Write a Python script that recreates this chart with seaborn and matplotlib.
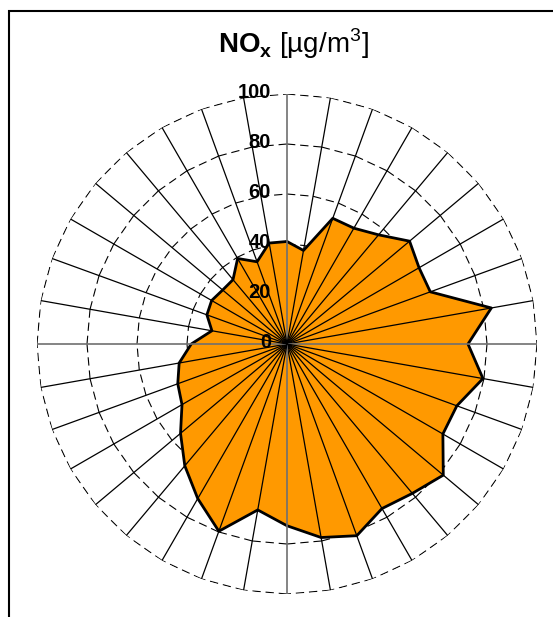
import numpy as np
import matplotlib
matplotlib.use('Agg')
import matplotlib.pyplot as plt
import matplotlib.transforms as mtransforms
from matplotlib.patches import Rectangle
import seaborn as sns

# wind direction sectors (deg from north, clockwise) and NOx concentration
directions = np.arange(0, 360, 10)
nox = [41.0, 38.0, 53.5, 53.5, 57.0, 64.0, 61.0, 61.0, 83.0, 72.4,
       79.6, 72.3, 72.0, 81.6, 78.0, 76.0, 81.6, 78.6, 72.7, 67.4,
       79.7, 71.4, 63.6, 55.6, 48.5, 46.5, 43.8, 38.3, 30.5, 34.1,
       34.8, 33.6, 33.6, 39.5, 35.0, 41.0]
ring_levels = [20, 40, 60, 80, 100]
tick_labels = ['0', '20', '40', '60', '80', '100']
title = r'$\mathbf{NO}_{\mathbf{x}}$ [µg/m$^{3}$]'

sns.set_theme(style='white')
plt.rcParams['font.family'] = ['Liberation Sans', 'DejaVu Sans']
plt.rcParams['mathtext.fontset'] = 'custom'
plt.rcParams['mathtext.rm'] = 'Liberation Sans'
plt.rcParams['mathtext.bf'] = 'Liberation Sans:bold'
plt.rcParams['lines.scale_dashes'] = False

W, H = 553, 617
fig = plt.figure(figsize=(W / 100, H / 100), dpi=100)
fig.patch.set_facecolor('white')

cx, cy, R = 287, 344, 250
ax = fig.add_axes([(cx - R) / W, (H - cy - R) / H, 2 * R / W, 2 * R / H],
                  projection='polar')
ax.set_theta_zero_location('N')
ax.set_theta_direction(-1)
ax.set_ylim(0, 100)
ax.grid(False)
ax.spines['polar'].set_visible(False)
ax.set_xticks([])
ax.set_yticks([])
ax.patch.set_alpha(0)

theta = np.deg2rad(directions)
theta_c = np.append(theta, 2 * np.pi)
nox_c = np.append(nox, nox[0])

# dashed polygon gridlines (dash restarts on each side)
for lev in ring_levels:
    for i in range(len(theta)):
        ax.plot([theta_c[i], theta_c[i + 1]], [lev, lev], color='black',
                lw=0.8, linestyle=(0, (6, 3.5)), zorder=1)

ax.fill(theta, nox, facecolor='#FF9900', edgecolor='none', zorder=2)
sns.lineplot(x=theta_c, y=nox_c, sort=False, estimator=None, ax=ax,
             color='black', lw=2, zorder=3)
ax.set_xlabel('')
ax.set_ylabel('')

# spokes
for d, t in zip(directions, theta):
    if d % 90 == 0:
        ax.plot([t, t], [0, 100], color='#707070', lw=1.2, zorder=4)
    else:
        ax.plot([t, t], [0, 100], color='black', lw=0.9, zorder=4)

offset = mtransforms.offset_copy(ax.transData, fig=fig, x=-16, y=1, units='dots')
for lab in tick_labels:
    ax.text(0, float(lab), lab, transform=offset, ha='right', va='center',
            fontsize=14.5, fontweight='bold', color='black', zorder=6)

fig.text(293.5 / W, 1 - 53 / H, title, ha='center', va='baseline',
         fontsize=20, color='black')

fig.add_artist(Rectangle((9 / W, -0.1), 1.0, 1 - 11 / H + 0.1,
                         transform=fig.transFigure, fill=False,
                         edgecolor='black', lw=1.5))

fig.savefig('out.png', dpi=100)
